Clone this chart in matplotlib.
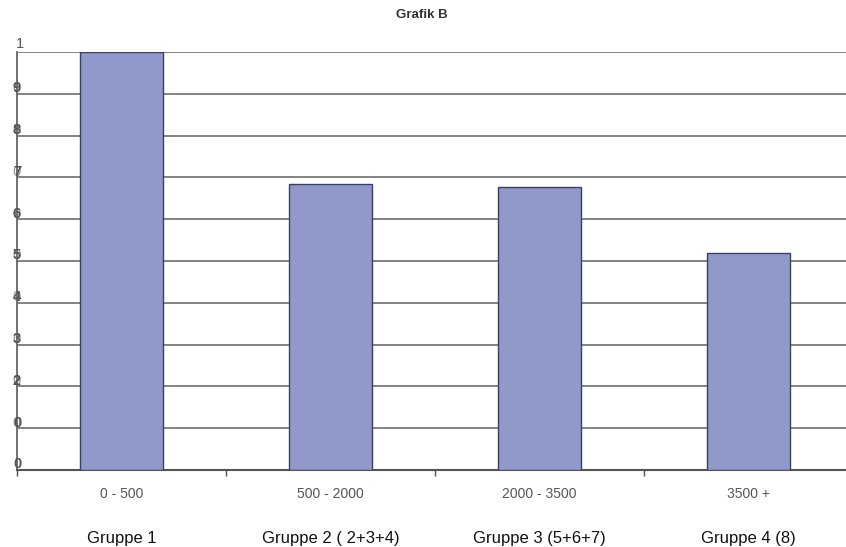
import matplotlib
matplotlib.use("Agg")
import matplotlib.pyplot as plt
from matplotlib.ticker import FixedLocator

plt.rcParams['font.family'] = ['Liberation Sans', 'DejaVu Sans']

# Data
ranges = ["0 - 500", "500 - 2000", "2000 - 3500", "3500 +"]
groups = ["Gruppe 1", "Gruppe 2 ( 2+3+4)", "Gruppe 3 (5+6+7)", "Gruppe 4 (8)"]
values = [1.0, 0.684, 0.677, 0.519]
y_ticks = [0.0, 0.1, 0.2, 0.3, 0.4, 0.5, 0.6, 0.7, 0.8, 0.9, 1.0]
y_tick_labels = ["0", "0", "2", "3", "4", "5", "6", "7", "8", "9", "1"]

W, H = 846, 547
fig = plt.figure(figsize=(W / 100, H / 100), dpi=100)
ax = fig.add_axes([17 / W, 77 / H, 836 / W, 418 / H])

x = list(range(len(ranges)))
ax.bar(x, values, width=0.40, color="#9199cb", edgecolor="#3a3f66",
       linewidth=1.0, zorder=3)

ax.set_xlim(-0.5, len(ranges) - 0.5)
ax.set_ylim(0, 1.0)

# horizontal gridlines
for yv in y_ticks[1:]:
    ax.axhline(yv, color="#7a7a7a", linewidth=1.3, zorder=1)

# y tick labels overprinted on the axis line, just above each gridline
ax.set_yticks([])
for yv, lab in zip(y_ticks, y_tick_labels):
    kw = dict(transform=ax.get_yaxis_transform(), ha="center", va="baseline",
              fontsize=10.5, color="#555555", clip_on=False, zorder=5)
    if lab == "1":
        ax.text(0.003, yv + 0.01, lab, **kw)
    else:
        ax.text(0.0, yv + 0.004, lab, fontweight="bold", **kw)
        if 0 < yv < 1:
            ax.text(-0.001, yv + 0.004, "0", alpha=0.6, **kw)

# category axis
ax.set_xticks(x)
ax.set_xticklabels(ranges, fontsize=10, color="#555555")
ax.tick_params(axis="x", which="major", length=0, pad=12)
ax.xaxis.set_minor_locator(FixedLocator([-0.5, 0.5, 1.5, 2.5, 3.5]))
ax.tick_params(axis="x", which="minor", length=4, color="#555555", width=1)

for i, g in enumerate(groups):
    ax.text(i, -0.165, g, transform=ax.get_xaxis_transform(), ha="center",
            va="center", fontsize=12, color="#111111")

for s in ["top", "right"]:
    ax.spines[s].set_visible(False)
ax.spines["left"].set_color("#666666")
ax.spines["left"].set_linewidth(1.3)
ax.spines["bottom"].set_color("#555555")
ax.spines["bottom"].set_linewidth(1.5)

fig.text(422 / W, 1 - 15 / H, "Grafik B", ha="center", va="center",
         fontsize=9.5, fontweight="bold", color="#333333")

fig.savefig("out.png", dpi=100, facecolor="white")
